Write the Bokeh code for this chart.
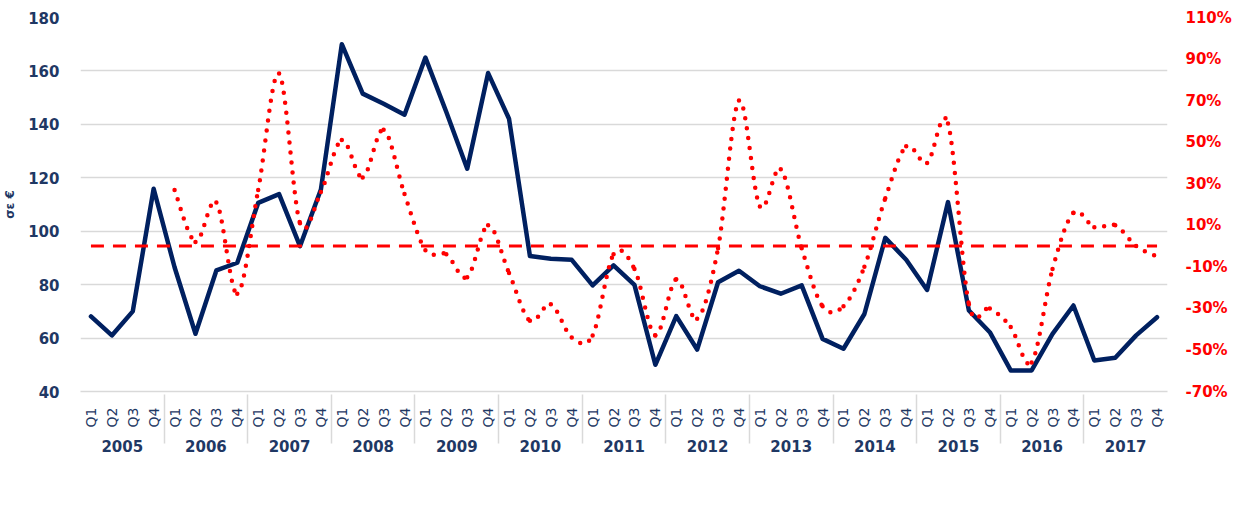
import math
from bokeh.plotting import figure
from bokeh.models import (FactorRange, Range1d, LinearAxis, FixedTicker,
                          PrintfTickFormatter, Legend, LegendItem)
from bokeh.embed import file_html
from bokeh.resources import INLINE

# ---------------- data ----------------
years = ["2005", "2006", "2007", "2008", "2009", "2010", "2011",
         "2012", "2013", "2014", "2015", "2016", "2017"]
quarters = ["Q1", "Q2", "Q3", "Q4"]

# Δαπάνη/Διανυκτέρευση (σε €), 2005Q1 .. 2017Q4
spend = [68.1, 61.0, 70.0, 115.9,
         86.5, 61.6, 85.3, 88.2,
         110.6, 113.9, 94.4, 115.6,
         170.0, 151.5, 147.7, 143.6,
         165.0, 144.6, 123.4, 159.2,
         142.1, 90.7, 89.7, 89.3,
         79.7, 87.2, 79.9, 50.0,
         68.2, 55.7, 80.9, 85.2,
         79.4, 76.6, 79.7, 59.7,
         56.0, 69.0, 97.5, 89.3,
         78.0, 110.9, 70.3, 62.2,
         47.9, 47.9, 61.6, 72.2,
         51.6, 52.6, 61.0, 67.8]

# Μεταβολή Q - Q (%), 2006Q1 .. 2017Q4
change_start = ("2006", "Q1")
change_pct = [27, 2, 21, -23,
              27, 83, 11, 26,
              51, 33, 56, 25,
              -2, -4, -15, 10,
              -13, -36, -28, -44,
              -43, -4, -11, -43,
              -16, -35, -1, 70,
              19, 37, -1, -29,
              -29, -10, 23, 48,
              40, 59, -28, -30,
              -39, -56, -11, 16,
              9, 10, 0, -5]

left_ticks = [40, 60, 80, 100, 120, 140, 160, 180]
right_ticks = [-70, -50, -30, -10, 10, 30, 50, 70, 90, 110]
zero_ref = 0

NAVY = "#1F3864"
BLUE = "#002060"
RED = "#FF0000"
GRID = "#D9D9D9"
FONT = "DejaVu Sans"

factors = [(y, q) for y in years for q in quarters]

p = figure(width=1217, height=502, frame_width=1087, frame_height=374,
           x_range=FactorRange(*factors, factor_padding=0, group_padding=0,
                               subgroup_padding=0, range_padding=0),
           y_range=Range1d(left_ticks[0], left_ticks[-1]),
           output_backend="svg", toolbar_location=None,
           min_border_left=71, min_border_right=59,
           min_border_top=17, min_border_bottom=0)
p.extra_y_ranges = {"pct": Range1d(right_ticks[0], right_ticks[-1])}
p.outline_line_color = None
p.background_fill_color = "white"
p.border_fill_color = "white"

# grid
p.xgrid.visible = False
p.ygrid.ticker = FixedTicker(ticks=left_ticks)
p.ygrid.grid_line_color = GRID
p.ygrid.grid_line_width = 1.5

# x axis (nested categories)
xa = p.xaxis[0]
xa.major_label_orientation = math.pi / 2
xa.major_label_text_font = FONT
xa.major_label_text_font_size = "14px"
xa.major_label_text_color = NAVY
xa.major_label_standoff = 10
xa.group_text_font = FONT
xa.group_text_font_size = "15px"
xa.group_text_font_style = "bold"
xa.group_text_color = NAVY
xa.axis_line_color = GRID
xa.axis_line_width = 1.5
xa.major_tick_line_color = None
xa.minor_tick_line_color = None
xa.separator_line_color = GRID
xa.separator_line_width = 1.5

# left axis
ya = p.yaxis[0]
ya.ticker = FixedTicker(ticks=left_ticks)
ya.axis_line_color = None
ya.major_tick_line_color = None
ya.minor_tick_line_color = None
ya.major_label_text_font = FONT
ya.major_label_text_font_size = "15px"
ya.major_label_text_font_style = "bold"
ya.major_label_text_color = NAVY
ya.major_label_standoff = 15
ya.axis_label = "σε €"
ya.axis_label_text_font = FONT
ya.axis_label_text_font_size = "12px"
ya.axis_label_text_font_style = "bold"
ya.axis_label_text_color = NAVY
ya.axis_label_standoff = 8

# right axis
ra = LinearAxis(y_range_name="pct", ticker=FixedTicker(ticks=right_ticks),
                formatter=PrintfTickFormatter(format="%d%%"))
ra.axis_line_color = None
ra.major_tick_line_color = None
ra.minor_tick_line_color = None
ra.major_label_text_font = FONT
ra.major_label_text_font_size = "15px"
ra.major_label_text_font_style = "bold"
ra.major_label_text_color = RED
ra.major_label_standoff = 12
p.add_layout(ra, "right")

# series: spend
blue = p.line(x=factors, y=spend, line_color=BLUE, line_width=4.5,
              line_join="round", line_cap="round")

# zero reference (dashed)
p.line(x=factors, y=[zero_ref] * len(factors), y_range_name="pct",
       line_color=RED, line_width=3, line_dash="13 9")

# series: change (smoothed, Excel-like Catmull-Rom bezier, factor + offset)
start = factors.index(change_start)
cf = factors[start:start + len(change_pct)]
ys = change_pct
n = len(cf)
x0, y0, x1, y1, cx0, cy0, cx1, cy1 = [], [], [], [], [], [], [], []
for i in range(n - 1):
    ip = max(i - 1, 0)
    inn = min(i + 2, n - 1)
    x0.append(cf[i]); y0.append(ys[i])
    x1.append(cf[i + 1]); y1.append(ys[i + 1])
    cx0.append(cf[i] + ((i + 1 - ip) / 6.0,))
    cy0.append(ys[i] + (ys[i + 1] - ys[ip]) / 6.0)
    cx1.append(cf[i + 1] + (-(inn - i) / 6.0,))
    cy1.append(ys[i + 1] - (ys[inn] - ys[i]) / 6.0)
red = p.bezier(x0=x0, y0=y0, x1=x1, y1=y1, cx0=cx0, cy0=cy0, cx1=cx1, cy1=cy1,
               y_range_name="pct",
               line_color=RED, line_width=4.5, line_cap="round",
               line_dash="0 10")

legend = Legend(items=[LegendItem(label="Δαπάνη/Διανυκτέρευση", renderers=[blue]),
                       LegendItem(label="Μεταβολή Q - Q", renderers=[red])],
                orientation="horizontal", location="bottom_center",
                glyph_width=58, glyph_height=14, label_standoff=5, spacing=18,
                label_text_font=FONT, label_text_font_size="15px",
                label_text_font_style="bold", label_text_color=NAVY,
                border_line_color=None, background_fill_alpha=0,
                padding=0, margin=2)
p.add_layout(legend, "below")

open("out.html", "w").write(file_html(p, INLINE))
